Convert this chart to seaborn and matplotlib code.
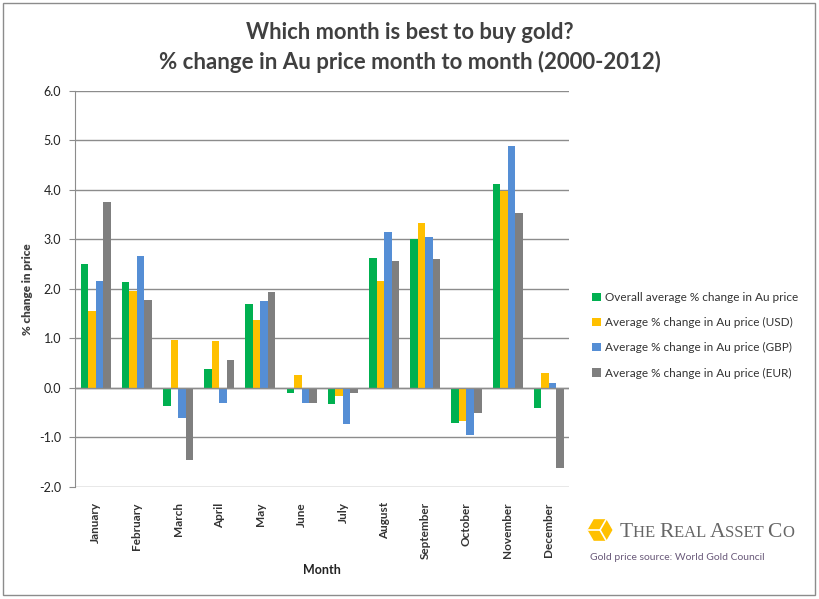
import numpy as np
import pandas as pd
import matplotlib.pyplot as plt
import matplotlib.patches as mpatches
import seaborn as sns

# dados (% de variacao media do preco do ouro, 2000-2012)
months = ["January", "February", "March", "April", "May", "June", "July",
          "August", "September", "October", "November", "December"]
series = ["Overall average % change in Au price",
          "Average % change in Au price (USD)",
          "Average % change in Au price (GBP)",
          "Average % change in Au price (EUR)"]
overall = [2.51, 2.14, -0.37, 0.39, 1.70, -0.11, -0.33, 2.63, 3.00, -0.71, 4.12, -0.41]
usd = [1.56, 1.96, 0.97, 0.95, 1.38, 0.27, -0.17, 2.16, 3.33, -0.67, 3.98, 0.31]
gbp = [2.16, 2.67, -0.61, -0.31, 1.76, -0.31, -0.73, 3.15, 3.05, -0.95, 4.89, 0.09]
eur = [3.76, 1.78, -1.46, 0.57, 1.94, -0.31, -0.11, 2.57, 2.61, -0.51, 3.54, -1.62]
colors = ["#00B050", "#FFC000", "#558ED5", "#7F7F7F"]

rows = []
for name, vals in zip(series, [overall, usd, gbp, eur]):
    for m, v in zip(months, vals):
        rows.append({"Month": m, "Serie": name, "Valor": v})
df = pd.DataFrame(rows)

sns.set_style("white")
plt.rcParams["font.family"] = ["Lato", "DejaVu Sans"]

fig = plt.figure(figsize=(8.2, 5.99), dpi=100)
ax = fig.add_axes([0.0915, 0.187, 0.603, 0.6616])

sns.barplot(data=df, x="Month", y="Valor", hue="Serie", order=months,
            hue_order=series, palette=colors, width=0.73, gap=0,
            saturation=1, linewidth=0, ax=ax, legend=True)

ax.set_ylim(-2, 6)
ax.set_yticks([-2, -1, 0, 1, 2, 3, 4, 5, 6])
ax.set_yticklabels([f"{t:.1f}" for t in ax.get_yticks()], fontsize=9, color="#222222")
ax.yaxis.grid(True, color="#8c8c8c", linewidth=1)
ax.set_axisbelow(True)
ax.axhline(0, color="#8c8c8c", linewidth=1, zorder=3)
for s in ["top", "right", "bottom"]:
    ax.spines[s].set_visible(False)
ax.spines["left"].set_color("#8c8c8c")
ax.tick_params(axis="y", length=4, color="#8c8c8c", pad=6, left=True)
ax.tick_params(axis="x", length=0, pad=11)
ax.set_xticks(range(len(months)))
ax.set_xticklabels(months, rotation=90, fontsize=8.5, fontweight="bold", color="#333333")
ax.set_xlim(-0.5, 11.5)

ax.set_xlabel("Month", fontsize=9, fontweight="bold", color="#222222", labelpad=3)
ax.set_ylabel("% change in price", fontsize=8.5, fontweight="heavy", color="#404040", labelpad=4)

leg = ax.legend(loc="center left", bbox_to_anchor=(1.025, 0.383), frameon=False,
                fontsize=8.5, handlelength=0.7, handleheight=0.7, handletextpad=0.35,
                labelspacing=1.2, labelcolor="#333333")

fig.text(0.5, 0.945, "Which month is best to buy gold?", ha="center", va="center",
         fontsize=15.8, fontweight="bold", color="#404040")
fig.text(0.5, 0.897, "% change in Au price month to month (2000-2012)", ha="center",
         va="center", fontsize=16, fontweight="bold", color="#404040")

# logo (hexagono em polegadas para nao deformar)
cx, cy, r = 6.00, (599 - 530) / 100, 0.125
fig.patches.append(mpatches.RegularPolygon((cx, cy), numVertices=6, radius=r,
                                           orientation=np.pi / 6,
                                           transform=fig.dpi_scale_trans,
                                           facecolor="#FFC000", edgecolor="none"))
for ang in [0, 120, 240]:
    a = np.deg2rad(ang + 60)
    fig.add_artist(plt.Line2D([cx, cx + r * np.cos(a)], [cy, cy + r * np.sin(a)],
                              transform=fig.dpi_scale_trans, color="white", linewidth=1.2))

# texto em versalete, montado pedaco a pedaco
renderer = fig.canvas.get_renderer()
x_px = 620
base_y = 1 - 537 / 599
pecas = [("T", 15.5), ("HE ", 12), ("R", 15.5), ("EAL ", 12), ("A", 15.5),
         ("SSET ", 12), ("C", 15.5), ("O", 12)]
for txt, tam in pecas:
    t = fig.text(x_px / 820, base_y, txt, fontsize=tam, family="Liberation Serif",
                 color="#666666", va="baseline", ha="left")
    x_px += t.get_window_extent(renderer).width

fig.text(590 / 820, 1 - 558 / 599, "Gold price source: World Gold Council", fontsize=7.5,
         color="#6a5a7a", va="center", ha="left")

# borda da figura
fig.patches.append(mpatches.Rectangle((0.004, 0.006), 0.99, 0.989, transform=fig.transFigure,
                                      fill=False, edgecolor="#8c8c8c", linewidth=1))

fig.savefig("out.png", dpi=100)
